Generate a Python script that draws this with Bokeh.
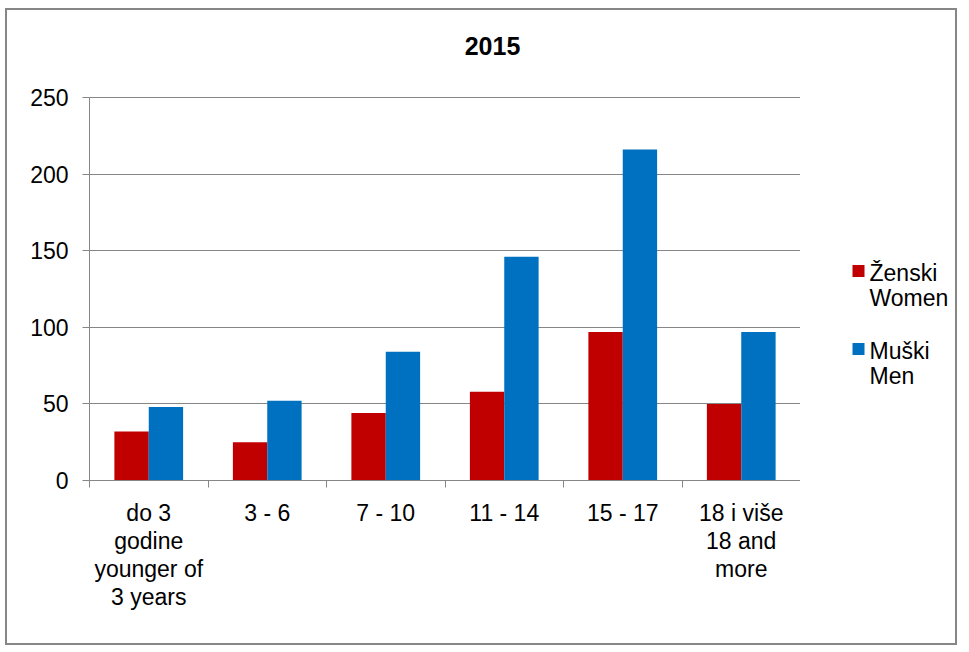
from bokeh.plotting import figure
from bokeh.models import ColumnDataSource, FixedTicker, Range1d
from bokeh.layouts import row
from bokeh.transform import dodge
from bokeh.core.properties import value
from bokeh.embed import file_html
from bokeh.resources import INLINE

# ---- data ----
categories = ["do 3\ngodine\nyounger of\n3 years", "3 - 6", "7 - 10", "11 - 14", "15 - 17", "18 i više\n18 and\nmore"]
women = [32, 25, 44, 58, 97, 50]
men = [48, 52, 84, 146, 216, 97]
series_names = ["Ženski\nWomen", "Muški\nMen"]
title_text = "2015"
y_ticks = [0, 50, 100, 150, 200, 250]

FONT = "Liberation Sans"
GRAY = "#868686"
RED = "#C00000"
BLUE = "#0070C0"
series_colors = [RED, BLUE]

# ---- layout constants (page pixels) ----
PAGE_TOP = 10          # top of the canvases
PLOT_TOP = 97          # where the top tick sits
PLOT_BOTTOM = 480      # where 0 sits
PLOT_LEFT, PLOT_RIGHT = 89, 800
TITLE_CX, TITLE_CY = 492, 45.5

n = len(categories)
idx = list(range(n))
src = ColumnDataSource(dict(x=idx, women=women, men=men))

units_per_px = (y_ticks[-1] - y_ticks[0]) / (PLOT_BOTTOM - PLOT_TOP)
y_end = y_ticks[-1] + (PLOT_TOP - PAGE_TOP) * units_per_px

H = 633
p = figure(width=PLOT_RIGHT - 7, height=H, output_backend="svg", toolbar_location=None,
           x_range=Range1d(-0.5, n - 0.5), y_range=Range1d(y_ticks[0], y_end),
           min_border_left=82, min_border_right=0, min_border_top=0,
           min_border_bottom=H - (PLOT_BOTTOM - PAGE_TOP))
p.outline_line_color = None
p.background_fill_color = "white"
p.border_fill_color = "white"

bw = 0.29
r1 = p.vbar(x=dodge("x", -bw / 2), top="women", width=bw, source=src,
            fill_color=series_colors[0], line_color=None)
r2 = p.vbar(x=dodge("x", bw / 2), top="men", width=bw, source=src,
            fill_color=series_colors[1], line_color=None)

# y axis
p.yaxis.ticker = FixedTicker(ticks=y_ticks)
p.yaxis.bounds = (y_ticks[0], y_ticks[-1])
p.yaxis.axis_line_color = GRAY
p.yaxis.major_tick_line_color = GRAY
p.yaxis.major_tick_out = 7
p.yaxis.major_tick_in = 0
p.yaxis.minor_tick_line_color = None
p.yaxis.major_label_text_font = FONT
p.yaxis.major_label_text_font_size = "23px"
p.yaxis.major_label_text_color = "black"
p.yaxis.major_label_standoff = 14
p.ygrid.grid_line_color = GRAY
p.ygrid.ticker = FixedTicker(ticks=y_ticks)
p.xgrid.grid_line_color = None

# x axis
p.xaxis.ticker = FixedTicker(ticks=idx, minor_ticks=[i - 0.5 for i in range(n + 1)])
p.xaxis.major_label_overrides = {i: c for i, c in enumerate(categories)}
p.xaxis.axis_line_color = GRAY
p.xaxis.major_tick_line_color = None
p.xaxis.major_tick_out = 0
p.xaxis.major_tick_in = 0
p.xaxis.minor_tick_line_color = GRAY
p.xaxis.minor_tick_out = 7
p.xaxis.minor_tick_in = 0
p.xaxis.major_label_text_font = FONT
p.xaxis.major_label_text_font_size = "23px"
p.xaxis.major_label_text_color = "black"
p.xaxis.major_label_text_line_height = 1.08
p.xaxis.major_label_standoff = 12

# title (drawn inside the top part of the frame, above the 250 grid line)
tx_title = -0.5 + (TITLE_CX - PLOT_LEFT) / (PLOT_RIGHT - PLOT_LEFT) * n
ty_title = y_ticks[-1] + (PLOT_TOP - TITLE_CY) * units_per_px
p.text(x=[tx_title], y=[ty_title], text=[title_text], text_font=value(FONT),
       text_font_style="bold", text_font_size="25px", text_color="black",
       text_align="center", text_baseline="middle")

# ---- legend panel (its frame is aligned with the main frame) ----
LW = 155
lg = figure(width=LW, height=H, output_backend="svg", toolbar_location=None,
            x_range=Range1d(PLOT_RIGHT, PLOT_RIGHT + LW), y_range=Range1d(PLOT_BOTTOM, PAGE_TOP),
            x_axis_type=None, y_axis_type=None,
            min_border_left=0, min_border_right=0, min_border_top=0,
            min_border_bottom=H - (PLOT_BOTTOM - PAGE_TOP))
lg.outline_line_color = None
lg.grid.grid_line_color = None
lg.background_fill_color = "white"
lg.border_fill_color = "white"

top0, stride, line_gap = 270.5, 78, 25
sq_x, sq_size, txt_x = 858, 12, 869
sq = dict(x=[], y=[], color=[])
tx = dict(x=[], y=[], text=[])
for k, (name, col) in enumerate(zip(series_names, series_colors)):
    yc = top0 + k * stride
    sq["x"].append(sq_x); sq["y"].append(yc); sq["color"].append(col)
    for j, line in enumerate(name.split("\n")):
        tx["x"].append(txt_x); tx["y"].append(yc + 2 + j * line_gap); tx["text"].append(line)
lg.rect(x="x", y="y", width=sq_size, height=sq_size, fill_color="color", line_color=None,
        source=ColumnDataSource(sq))
lg.text(x="x", y="y", text="text", source=ColumnDataSource(tx), text_font=value(FONT),
        text_font_size="23px", text_color="black", text_align="left",
        text_baseline="alphabetic")

layout = row(p, lg, spacing=0)
layout.styles = {"margin": "8px 0 0 5px", "border": "2px solid #868686"}

open("out.html", "w").write(file_html(layout, INLINE))
